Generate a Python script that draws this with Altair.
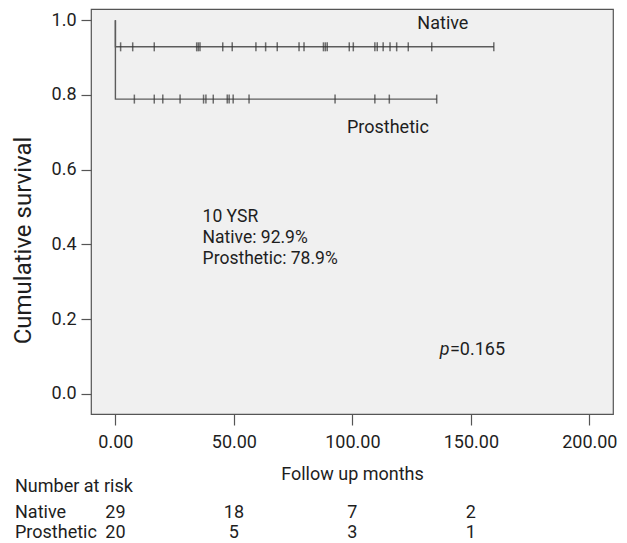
import altair as alt
import pandas as pd

FONT = "Roboto"

# ---- data ----
native_censor = [2.2, 7.3, 16.4, 34.3, 35.0, 35.7, 45.3, 49.3, 59.3, 63.4, 68.3, 77.5,
                 79.6, 87.8, 88.6, 89.4, 98.7, 100.4, 109.5, 110.5, 113.0, 115.9,
                 118.7, 123.6, 133.5, 159.7]
prosth_censor = [8.0, 16.4, 20.0, 27.3, 37.2, 38.2, 41.3, 47.2, 48.0, 49.7, 56.4,
                 92.7, 109.5, 115.6, 135.6]
native_surv = 0.929
prosth_surv = 0.789

risk_times = [0, 50, 100, 150]
native_risk = [29, 18, 7, 2]
prosth_risk = [20, 5, 3, 1]

x_ticks = [0, 50, 100, 150, 200]
y_ticks = [0.0, 0.2, 0.4, 0.6, 0.8, 1.0]

# ---- tables ----
curve_rows = []
for grp, surv, cens in [("Native", native_surv, native_censor),
                        ("Prosthetic", prosth_surv, prosth_censor)]:
    curve_rows += [
        {"group": grp, "t": 0.0, "s": 1.0, "o": 0},
        {"group": grp, "t": 0.0, "s": surv, "o": 1},
        {"group": grp, "t": max(cens), "s": surv, "o": 2},
    ]
curves = pd.DataFrame(curve_rows)

cens_df = pd.DataFrame(
    [{"group": "Native", "t": t, "s": native_surv} for t in native_censor]
    + [{"group": "Prosthetic", "t": t, "s": prosth_surv} for t in prosth_censor]
)

labels_df = pd.DataFrame([
    {"t": 138.2, "s": 0.989, "txt": "Native"},
    {"t": 115.0, "s": 0.712, "txt": "Prosthetic"},
])
ysr_df = pd.DataFrame([
    {"t": 36.8, "s": 0.472, "txt": "10 YSR"},
    {"t": 36.8, "s": 0.418, "txt": "Native: 92.9%"},
    {"t": 36.8, "s": 0.362, "txt": "Prosthetic: 78.9%"},
])
pval_df = pd.DataFrame([{"t": 141.2, "s": 0.118}])

risk_df = pd.DataFrame({"t": risk_times, "native": native_risk, "prosth": prosth_risk})

xscale = alt.Scale(domain=[-10.3, 210.0], nice=False, zero=False)
yscale = alt.Scale(domain=[-0.0544, 1.0303], nice=False, zero=False)

xaxis = alt.Axis(values=x_ticks, format=".2f", title="Follow up months",
                 tickSize=11, labelPadding=22, labelBaseline="alphabetic",
                 titleX=261, titleY=65, titleBaseline="alphabetic", titleAlign="center")
yaxis = alt.Axis(values=y_ticks, format=".1f", title="Cumulative survival",
                 tickSize=10, labelPadding=5, labelBaseline="middle",
                 titleX=-68, titleY=231, titleAngle=270, titleAlign="center",
                 titleBaseline="middle", titleFontSize=24)

X = alt.X("t:Q", scale=xscale, axis=xaxis)
Y = alt.Y("s:Q", scale=yscale, axis=yaxis)

LINE = "#5c5c5c"
TXT = "#1e1e1e"

lines = alt.Chart(curves).mark_line(color=LINE, strokeWidth=1.4).encode(
    x=X, y=Y, detail="group:N", order="o:Q")

ticks = alt.Chart(cens_df).mark_tick(color="#333", orient="vertical", size=9,
                                     thickness=1.5).encode(x="t:Q", y="s:Q")

grp_labels = alt.Chart(labels_df).mark_text(font=FONT, fontSize=18, color=TXT,
                                            align="center", baseline="middle").encode(
    x="t:Q", y="s:Q", text="txt:N")

ysr = alt.Chart(ysr_df).mark_text(font=FONT, fontSize=17.5, color=TXT,
                                  align="left", baseline="middle").encode(
    x="t:Q", y="s:Q", text="txt:N")

p_it = alt.Chart(pval_df).mark_text(font=FONT, fontSize=18, color=TXT, fontStyle="italic",
                                    align="right", baseline="middle", text="p", dx=-0.5).encode(
    x="t:Q", y="s:Q")
p_val = alt.Chart(pval_df).mark_text(font=FONT, fontSize=18, color=TXT,
                                     align="left", baseline="middle", text="=0.165").encode(
    x="t:Q", y="s:Q")

# number-at-risk table below the axis
row_label_base = alt.Chart(risk_df.head(1)).mark_text(font=FONT, fontSize=18, color=TXT,
                                                       align="left", baseline="alphabetic")
nar_title = row_label_base.encode(x=alt.value(-76), y=alt.value(482.8),
                                  text=alt.value("Number at risk"))
nar_native = row_label_base.encode(x=alt.value(-76), y=alt.value(509.3),
                                   text=alt.value("Native"))
nar_prosth = row_label_base.encode(x=alt.value(-76), y=alt.value(529.3),
                                   text=alt.value("Prosthetic"))

num_native = alt.Chart(risk_df).mark_text(font=FONT, fontSize=18, color=TXT,
                                          align="center", baseline="alphabetic").encode(
    x="t:Q", y=alt.value(509.3), text="native:Q")
num_prosth = alt.Chart(risk_df).mark_text(font=FONT, fontSize=18, color=TXT,
                                          align="center", baseline="alphabetic").encode(
    x="t:Q", y=alt.value(529.3), text="prosth:Q")

chart = alt.layer(
    lines, ticks, grp_labels, ysr, p_it, p_val,
    nar_title, nar_native, nar_prosth, num_native, num_prosth
).properties(
    width=522, height=405,
    autosize=alt.AutoSizeParams(type="none"),
    padding={"left": 83, "top": 1, "right": 6, "bottom": 131},
    background="white",
).configure_view(
    fill="#f0f0f0", stroke="#555555", strokeWidth=1.2
).configure_axis(
    domain=False, grid=False, tickColor="#555555", tickWidth=1.2,
    labelFont=FONT, labelFontSize=18, labelColor=TXT,
    titleFont=FONT, titleFontSize=18, titleFontWeight="normal", titleColor=TXT,
)

chart.save("out.html", embed_options={"renderer": "svg", "actions": False})
